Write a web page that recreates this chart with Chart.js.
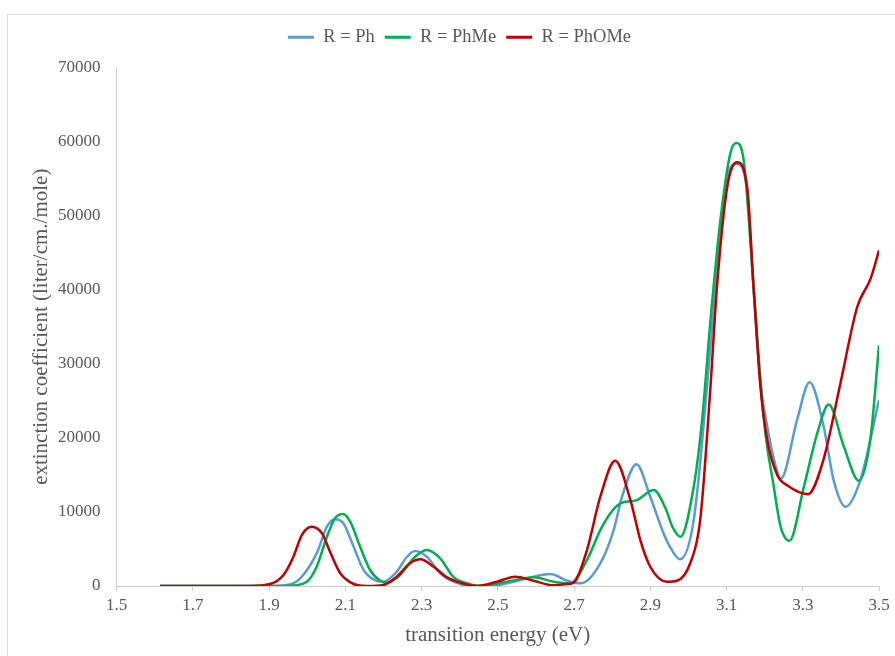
<!DOCTYPE html>
<html>
<head>
<meta charset="utf-8">
<script src="https://cdn.jsdelivr.net/npm/chart.js@4.4.1/dist/chart.umd.min.js"></script>
<style>
  html, body { margin: 0; padding: 0; background: #fff; }
  #wrap { position: relative; width: 895px; height: 656px; overflow: hidden; }
  #frame { position: absolute; left: 7px; top: 14px; width: 1000px; height: 800px;
           border-left: 1px solid #d9d9d9; border-top: 1px solid #d9d9d9; }
  #spectra { position: absolute; left: 0; top: 0; }
</style>
</head>
<body>
<div id="wrap">
  <div id="frame"></div>
  <canvas id="spectra" width="895" height="656"></canvas>
</div>
<script>
// R = Ph
const phEnergy = [1.614, 1.9, 1.947, 1.982, 2.025, 2.052, 2.073, 2.095, 2.122, 2.148, 2.174, 2.2, 2.235, 2.262, 2.283, 2.314, 2.349, 2.384, 2.43, 2.48, 2.524, 2.577, 2.638, 2.682, 2.717, 2.769, 2.804, 2.826, 2.864, 2.9, 2.935, 2.955, 2.978, 3.014, 3.049, 3.071, 3.097, 3.127, 3.154, 3.171, 3.189, 3.207, 3.225, 3.243, 3.285, 3.318, 3.355, 3.381, 3.412, 3.451, 3.5];
const phExt = [0, 0, 130, 1040, 4400, 8000, 9000, 8460, 5300, 2160, 900, 580, 1930, 3950, 4720, 3950, 1710, 580, 0, 0, 360, 1040, 1620, 720, 360, 3060, 7550, 12050, 16450, 12050, 7100, 5000, 3600, 8900, 26900, 40400, 53900, 57000, 53500, 40000, 27500, 21500, 17000, 14500, 22400, 27500, 21500, 14300, 10700, 14300, 25100];

// R = PhMe
const phMeEnergy = [1.614, 1.92, 1.955, 1.999, 2.025, 2.052, 2.073, 2.094, 2.113, 2.139, 2.165, 2.192, 2.209, 2.244, 2.279, 2.314, 2.349, 2.384, 2.41, 2.454, 2.524, 2.594, 2.646, 2.69, 2.734, 2.769, 2.795, 2.822, 2.865, 2.909, 2.94, 2.958, 2.979, 3.014, 3.036, 3.058, 3.084, 3.11, 3.126, 3.145, 3.171, 3.198, 3.224, 3.242, 3.265, 3.303, 3.338, 3.368, 3.408, 3.447, 3.478, 3.5];
const phMeExt = [0, 0, 50, 580, 2600, 6650, 9130, 9710, 8680, 5300, 2160, 720, 450, 1480, 3740, 4860, 3740, 1200, 500, 0, 580, 1170, 580, 360, 3500, 7550, 9800, 11150, 11600, 12950, 10500, 8000, 6650, 13400, 22400, 35900, 49400, 58400, 59800, 57500, 40400, 22400, 13400, 8000, 6100, 13400, 20600, 24500, 18800, 14200, 20100, 32500];

// R = PhOMe
const phOMeEnergy = [1.614, 1.85, 1.903, 1.938, 1.964, 1.986, 2.012, 2.039, 2.06, 2.087, 2.122, 2.157, 2.2, 2.235, 2.27, 2.297, 2.332, 2.367, 2.402, 2.445, 2.498, 2.546, 2.594, 2.646, 2.682, 2.699, 2.734, 2.769, 2.808, 2.848, 2.874, 2.9, 2.944, 2.97, 3.005, 3.031, 3.058, 3.075, 3.102, 3.128, 3.154, 3.171, 3.189, 3.207, 3.233, 3.259, 3.314, 3.354, 3.399, 3.443, 3.478, 3.5];
const phOMeExt = [0, 0, 270, 1480, 3950, 6880, 8000, 7100, 4630, 1710, 270, 0, 130, 1260, 3060, 3600, 2600, 1170, 450, 0, 580, 1260, 720, 90, 270, 450, 4850, 12050, 16900, 11600, 6200, 2600, 580, 700, 3100, 8900, 26900, 40400, 53900, 57200, 53900, 40400, 26900, 19700, 15000, 13600, 12400, 17000, 27400, 37700, 41500, 45300];

const seriesNames = ['R = Ph', 'R = PhMe', 'R = PhOMe'];
const seriesColors = ['#5b9bd5', '#00b050', '#c00000'];
const yTicks = [0, 10000, 20000, 30000, 40000, 50000, 60000, 70000];

const textColor = '#595959';
const axisColor = '#cfcfcf';
const serif = '"Liberation Serif", "Times New Roman", serif';

function toPoints(xs, ys) {
    return xs.map((x, i) => ({ x: x, y: ys[i] }));
}

const series = [
    toPoints(phEnergy, phExt),
    toPoints(phMeEnergy, phMeExt),
    toPoints(phOMeEnergy, phOMeExt)
];

// extra room under the legend, and legend nudged right to sit over the frame
const legendTweak = {
    id: 'legendTweak',
    beforeInit(chart) {
        const legend = chart.legend;
        const fit = legend.fit;
        legend.fit = function () {
            fit.bind(legend)();
            this.height += 11;
        };
        const draw = legend.draw;
        legend.draw = function () {
            const c = this.ctx;
            c.save();
            c.translate(20, 0);
            draw.bind(legend)();
            c.restore();
        };
    }
};

const ctx = document.getElementById('spectra').getContext('2d');

const chart = new Chart(ctx, {
    type: 'line',
    data: {
        datasets: series.map((pts, i) => ({
            label: seriesNames[i],
            data: pts,
            borderColor: seriesColors[i],
            backgroundColor: seriesColors[i],
            borderWidth: 2.5,
            pointRadius: 0,
            fill: false,
            cubicInterpolationMode: 'monotone',
            order: 2 - i
        }))
    },
    options: {
        responsive: false,
        animation: false,
        layout: { padding: { top: 18, left: 0, right: 16, bottom: 0 } },
        plugins: {
            tooltip: { enabled: false },
            legend: {
                position: 'top',
                labels: {
                    color: textColor,
                    font: { family: serif, size: 18.5 },
                    boxWidth: 26,
                    boxHeight: 3,
                    padding: 10,
                    generateLabels(chart) {
                        return chart.data.datasets.map((ds, i) => ({
                            text: ds.label,
                            fillStyle: ds.borderColor,
                            strokeStyle: ds.borderColor,
                            lineWidth: 0,
                            fontColor: textColor,
                            hidden: false,
                            datasetIndex: i
                        }));
                    }
                }
            }
        },
        scales: {
            x: {
                type: 'linear',
                min: 1.5,
                max: 3.5,
                afterFit(scale) { scale.height = 70; },
                grid: { drawOnChartArea: false, drawTicks: true, tickLength: 5, color: axisColor },
                border: { color: axisColor },
                ticks: {
                    stepSize: 0.2,
                    padding: 4,
                    color: textColor,
                    font: { family: serif, size: 17 },
                    maxRotation: 0,
                    callback: v => v.toFixed(1)
                },
                title: {
                    display: true,
                    text: 'transition energy (eV)',
                    color: textColor,
                    font: { family: serif, size: 21 },
                    padding: { top: 0, bottom: 8 }
                }
            },
            y: {
                min: yTicks[0],
                max: yTicks[yTicks.length - 1],
                afterFit(scale) { scale.width = 116.5; },
                grid: { drawOnChartArea: false, drawTicks: false, color: axisColor },
                border: { color: axisColor },
                afterBuildTicks(scale) { scale.ticks = yTicks.map(v => ({ value: v })); },
                ticks: {
                    padding: 16,
                    color: textColor,
                    font: { family: serif, size: 17 },
                    callback: v => String(v)
                },
                title: {
                    display: true,
                    text: 'extinction coefficient (liter/cm./mole)',
                    color: textColor,
                    font: { family: serif, size: 21 },
                    padding: { top: 29, bottom: 0 }
                }
            }
        }
    },
    plugins: [legendTweak]
});
</script>
</body>
</html>
